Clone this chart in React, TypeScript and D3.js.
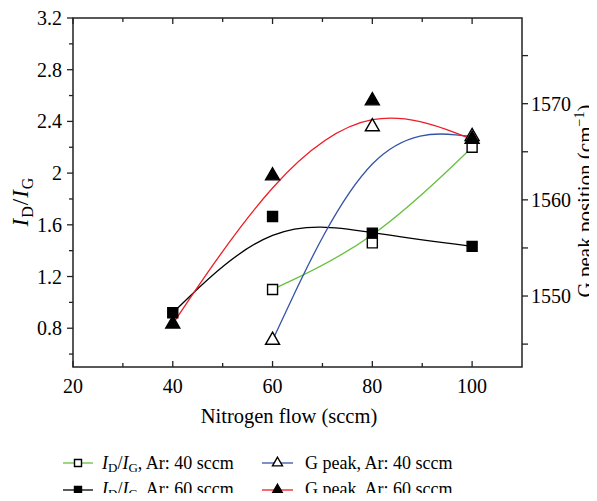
import React from "react";
import * as d3 from "d3";

const nitrogen40 = [60, 80, 100];
const nitrogen60 = [40, 60, 80, 100];
const idig40 = [1.1, 1.46, 2.2];
const idig60 = [0.92, 1.664, 1.536, 1.433];
const gpeak40 = [1545.4, 1567.6, 1566.6];
const gpeak60 = [1547.1, 1562.5, 1570.3, 1566.3];

const xMajor = [20, 40, 60, 80, 100];
const xMinor = [30, 50, 70, 90];
const yLMajor = [0.8, 1.2, 1.6, 2.0, 2.4, 2.8, 3.2];
const yLMinor = [0.6, 1.0, 1.4, 1.8, 2.2, 2.6, 3.0];
const yLLabels = ["0.8", "1.2", "1.6", "2", "2.4", "2.8", "3.2"];
const yRMajor = [1550, 1560, 1570];
const yRMinor = [1545, 1555, 1565, 1575];

const W = 597, H = 501;
const L = 73, R = 522, T = 18, B = 367;
const FONT = '"Liberation Serif"';

const x = d3.scaleLinear().domain([20, 110]).range([L, R]);
const yL = d3.scaleLinear().domain([0.5, 3.2]).range([B, T]);
const yR = d3.scaleLinear().domain([1542.62, 1578.91]).range([B, T]);

const GREEN = "#66c03f";
const BLUE = "#3553a8";
const RED = "#ee1c25";

type Pt = [number, number];
const lineGen = d3.line<Pt>().x(d => d[0]).y(d => d[1]).curve(d3.curveBasis);

function pts(xs: number[], ys: number[], sc: d3.ScaleLinear<number, number>): Pt[] {
  return xs.map((v, i) => [x(v), sc(ys[i])]);
}

const sq = (s: number) => d3.symbol(d3.symbolSquare, s * s)() as string;
const tri = (s: number) => d3.symbol(d3.symbolTriangle, (s * s * Math.sqrt(3)) / 4)() as string;

function Marker({ p, kind, filled, size }: { p: Pt; kind: "sq" | "tri"; filled: boolean; size: number }) {
  const d = kind === "sq" ? sq(size) : tri(size);
  return (
    <path
      d={d}
      transform={`translate(${p[0]},${p[1]})`}
      fill={filled ? "#000" : "#fff"}
      stroke="#000"
      strokeWidth={1.4}
    />
  );
}

const f = (size: number): React.CSSProperties => ({ fontFamily: FONT, fontSize: size });

function IdIg({ xPos, y, suffix }: { xPos: number; y: number; suffix: string }) {
  return (
    <text x={xPos} y={y} style={f(18)}>
      <tspan fontStyle="italic">I</tspan>
      <tspan style={{ fontSize: 13 }} dy={3}>D</tspan>
      <tspan dy={-3}>/</tspan>
      <tspan fontStyle="italic">I</tspan>
      <tspan style={{ fontSize: 13 }} dy={3}>G</tspan>
      <tspan dy={-3}>{suffix}</tspan>
    </text>
  );
}

export default function App() {
  const s40 = pts(nitrogen40, idig40, yL);
  const s60 = pts(nitrogen60, idig60, yL);
  const g40 = pts(nitrogen40, gpeak40, yR);
  const g60 = pts(nitrogen60, gpeak60, yR);

  const axisColor = "#222";
  const major = 6, minor = 4;

  return (
    <div style={{ margin: -8, width: W, height: H, overflow: "hidden", fontFamily: FONT }}>
      <svg width={W} height={H} style={{ display: "block" }}>
        <rect x={0} y={0} width={W} height={H} fill="#fff" />
        <path d={lineGen(s40) as string} fill="none" stroke={GREEN} strokeWidth={1.3} />
        <path d={lineGen(s60) as string} fill="none" stroke="#000" strokeWidth={1.3} />
        <path d={lineGen(g40) as string} fill="none" stroke={BLUE} strokeWidth={1.3} />
        <path d={lineGen(g60) as string} fill="none" stroke={RED} strokeWidth={1.3} />

        <rect x={L} y={T} width={R - L} height={B - T} fill="none" stroke={axisColor} strokeWidth={1.5} />

        {xMajor.concat(xMinor).map((v, i) => {
          const len = xMajor.includes(v) ? major : minor;
          return (
            <g key={"xt" + i}>
              <line x1={x(v)} x2={x(v)} y1={B} y2={B - len} stroke={axisColor} strokeWidth={1.3} />
              <line x1={x(v)} x2={x(v)} y1={T} y2={T + len} stroke={axisColor} strokeWidth={1.3} />
            </g>
          );
        })}
        {xMajor.map(v => (
          <text key={"xl" + v} x={x(v)} y={B + 26} textAnchor="middle" style={f(20)}>
            {v}
          </text>
        ))}

        {yLMajor.map((v, i) => (
          <g key={"yl" + i}>
            <line x1={L - major} x2={L} y1={yL(v)} y2={yL(v)} stroke={axisColor} strokeWidth={1.3} />
            <text x={L - 11} y={yL(v) + 7} textAnchor="end" style={f(20)}>
              {yLLabels[i]}
            </text>
          </g>
        ))}
        {yLMinor.map((v, i) => (
          <line key={"ylm" + i} x1={L - minor} x2={L} y1={yL(v)} y2={yL(v)} stroke={axisColor} strokeWidth={1.3} />
        ))}

        {yRMajor.map((v, i) => (
          <g key={"yr" + i}>
            <line x1={R} x2={R + major} y1={yR(v)} y2={yR(v)} stroke={axisColor} strokeWidth={1.3} />
            <text x={R + 9} y={yR(v) + 7} style={f(20)}>
              {v}
            </text>
          </g>
        ))}
        {yRMinor.map((v, i) => (
          <line key={"yrm" + i} x1={R} x2={R + major} y1={yR(v)} y2={yR(v)} stroke={axisColor} strokeWidth={1.3} />
        ))}

        <text x={289} y={B + 56} textAnchor="middle" style={f(20.5)}>
          Nitrogen flow (sccm)
        </text>
        <g transform={`translate(28, 202) rotate(-90)`}>
          <text x={0} y={0} textAnchor="middle" style={f(23)}>
            <tspan fontStyle="italic">I</tspan>
            <tspan style={{ fontSize: 16 }} dx={1} dy={5}>D</tspan>
            <tspan dx={1} dy={-5}>/</tspan>
            <tspan fontStyle="italic" dx={1}>I</tspan>
            <tspan style={{ fontSize: 16 }} dx={1} dy={5}>G</tspan>
          </text>
        </g>
        <g transform={`translate(592, 201) rotate(-90)`}>
          <text x={0} y={0} textAnchor="middle" style={f(21)}>
            <tspan>G peak position (cm</tspan>
            <tspan style={{ fontSize: 14 }} dy={-8}>−1</tspan>
            <tspan dy={8}>)</tspan>
          </text>
        </g>

        {s40.map((p, i) => <Marker key={"m1" + i} p={p} kind="sq" filled={false} size={10} />)}
        {s60.map((p, i) => <Marker key={"m2" + i} p={p} kind="sq" filled={true} size={10} />)}
        {g40.map((p, i) => <Marker key={"m3" + i} p={p} kind="tri" filled={false} size={14} />)}
        {g60.map((p, i) => <Marker key={"m4" + i} p={p} kind="tri" filled={true} size={14} />)}

        <g>
          <line x1={63} x2={93} y1={463} y2={463} stroke={GREEN} strokeWidth={1.3} />
          <Marker p={[78, 463]} kind="sq" filled={false} size={7} />
          <IdIg xPos={102} y={469} suffix=", Ar: 40 sccm" />
          <line x1={262} x2={293} y1={463} y2={463} stroke={BLUE} strokeWidth={1.3} />
          <Marker p={[277.5, 463]} kind="tri" filled={false} size={10} />
          <text x={305} y={469} style={f(18)}>G peak, Ar: 40 sccm</text>

          <line x1={63} x2={93} y1={490} y2={490} stroke="#000" strokeWidth={1.3} />
          <Marker p={[78, 490]} kind="sq" filled={true} size={7} />
          <IdIg xPos={102} y={495} suffix=", Ar: 60 sccm" />
          <line x1={262} x2={293} y1={490} y2={490} stroke={RED} strokeWidth={1.3} />
          <Marker p={[277.5, 490]} kind="tri" filled={true} size={10} />
          <text x={305} y={495} style={f(18)}>G peak, Ar: 60 sccm</text>
        </g>
      </svg>
    </div>
  );
}
